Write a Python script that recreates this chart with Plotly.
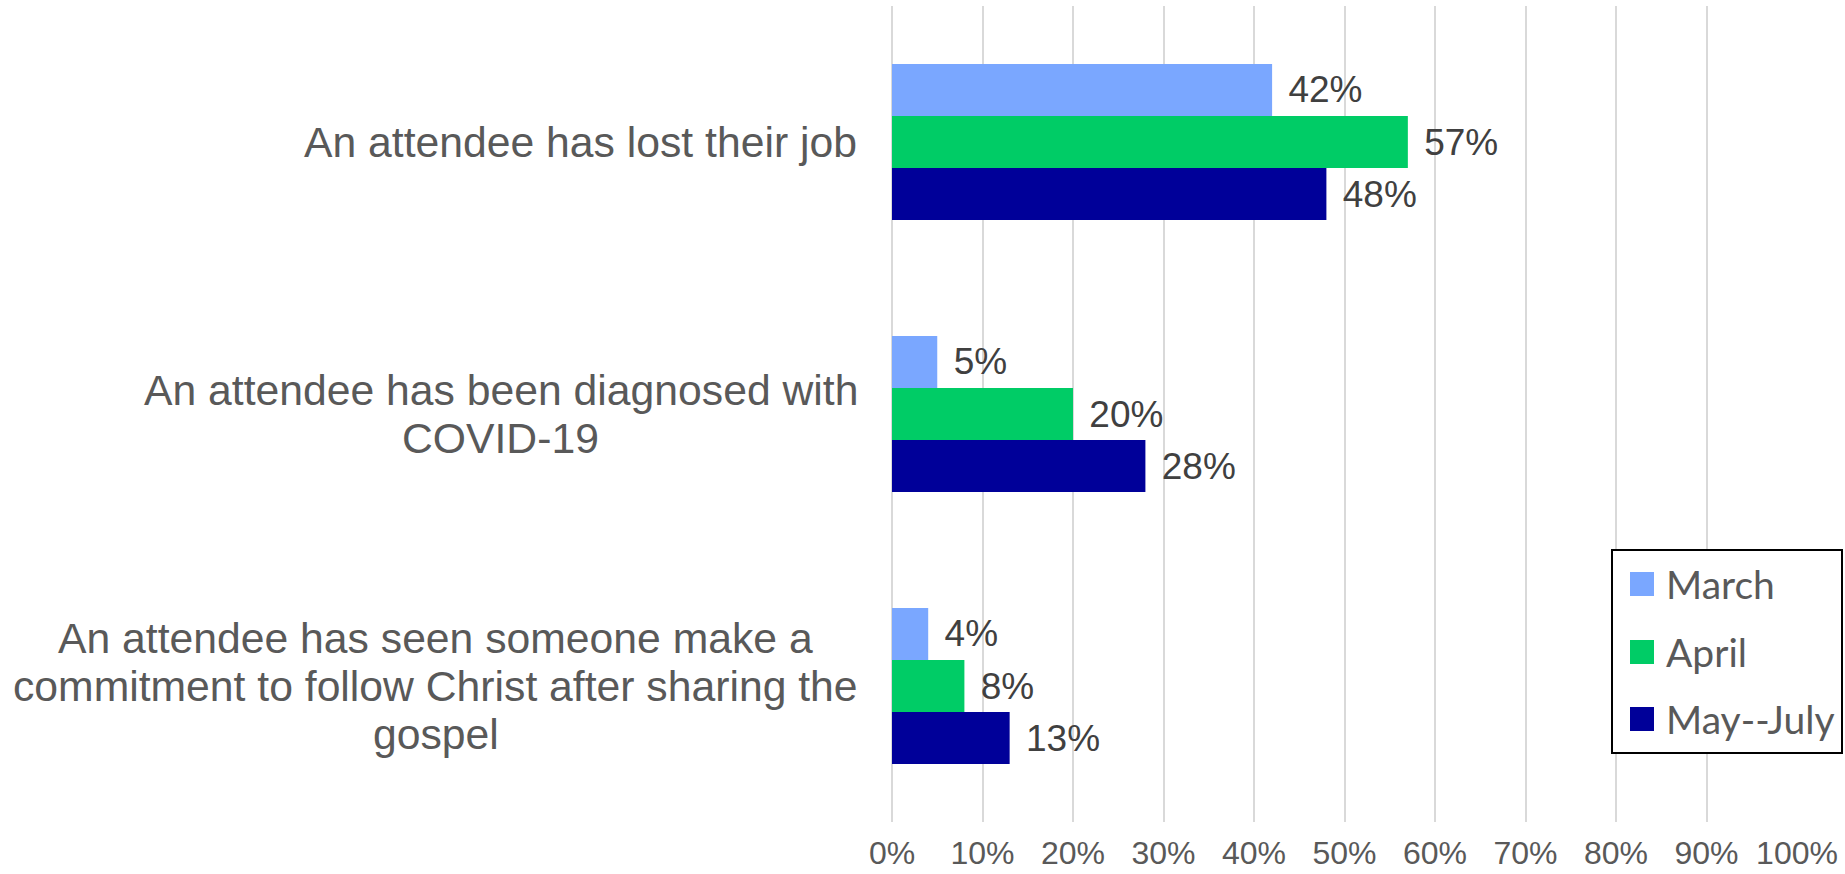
import plotly.graph_objects as go

categories = [
    "An attendee has lost their job",
    "An attendee has been diagnosed with<br>COVID-19",
    "An attendee has seen someone make a<br>commitment to follow Christ after sharing the<br>gospel",
]
series_names = ["March", "April", "May--July"]
march = [0.42, 0.05, 0.04]
april = [0.57, 0.20, 0.08]
may_july = [0.48, 0.28, 0.13]
tick_vals = [0, 0.1, 0.2, 0.3, 0.4, 0.5, 0.6, 0.7, 0.8, 0.9, 1.0]
tick_text = ["0%", "10%", "20%", "30%", "40%", "50%", "60%", "70%", "80%", "90%", "100%"]

colors = ["#7AA7FF", "#00CC66", "#000099"]
series_values = [march, april, may_july]

W, H = 1845, 874
L, R, T, B = 892, 48, 6, 52
PW = W - L - R
PH = H - T - B

def px_x(px):
    return (px - L) / PW

def px_y(py):
    return (H - B - py) / PH

fig = go.Figure()
for name, vals, col in zip(series_names, series_values, colors):
    fig.add_trace(go.Bar(
        y=categories, x=vals, name=name, orientation="h",
        marker=dict(color=col, line=dict(width=0)),
        text=["\u00a0\u200a" + f"{v*100:.0f}%" for v in vals],
        textposition="outside", constraintext="none", cliponaxis=False,
        textfont=dict(family="Liberation Sans, Arial", size=37, color="#404040"),
        showlegend=False, hoverinfo="skip",
    ))

# category labels (centered multi-line, tight line spacing)
centers = [580, 500.5, 435.5]
line_h = 48
for cat, cx in zip(categories, centers):
    lines = cat.split("<br>")
    n = len(lines)
    for i, ln in enumerate(lines):
        fig.add_annotation(
            xref="paper", yref="y", x=0, y=cat, text=ln, showarrow=False,
            xanchor="center", yanchor="middle", xshift=cx - L,
            yshift=((n - 1) / 2 - i) * line_h,
            font=dict(family="Liberation Sans, Arial", size=42.7, color="#595959"),
        )

# legend drawn manually
fig.add_shape(type="rect", xref="paper", yref="paper",
              x0=px_x(1612), x1=px_x(1842), y0=px_y(753), y1=px_y(550),
              line=dict(color="black", width=2), fillcolor="white", layer="above")
leg_y = [584, 652, 719]
for name, col, cy in zip(series_names, colors, leg_y):
    fig.add_shape(type="rect", xref="paper", yref="paper",
                  x0=px_x(1630), x1=px_x(1654), y0=px_y(cy + 12), y1=px_y(cy - 12),
                  line=dict(width=0), fillcolor=col, layer="above")
    fig.add_annotation(xref="paper", yref="paper", x=px_x(1664), y=px_y(cy),
                       text=name, showarrow=False, xanchor="left", yanchor="middle",
                       font=dict(family="Lato, Open Sans", size=39, color="#595959"))

fig.update_layout(
    width=W, height=H,
    margin=dict(l=L, r=R, t=T, b=B, pad=0, autoexpand=False),
    paper_bgcolor="white", plot_bgcolor="white",
    barmode="group", bargap=0.426, bargroupgap=0,
    showlegend=False,
    font=dict(family="Liberation Sans, Arial", color="#595959"),
)
fig.update_xaxes(
    range=[0, 1], tickvals=tick_vals, ticktext=tick_text,
    showgrid=True, gridcolor="#D9D9D9", gridwidth=1.5,
    zeroline=True, zerolinecolor="#D9D9D9", zerolinewidth=1.5,
    showline=False, ticks="", ticklabelstandoff=9, automargin=False,
    tickfont=dict(family="Liberation Sans, Arial", size=32, color="#595959"),
    fixedrange=True,
)
fig.update_yaxes(
    categoryorder="array", categoryarray=categories, autorange="reversed",
    showticklabels=False, showgrid=False, zeroline=False, showline=False, ticks="",
    automargin=False, fixedrange=True,
)

fig.write_html(
    "out.html",
    config={"displayModeBar": False},
    post_script="document.body.style.margin='0';document.body.style.overflow='hidden';",
)
